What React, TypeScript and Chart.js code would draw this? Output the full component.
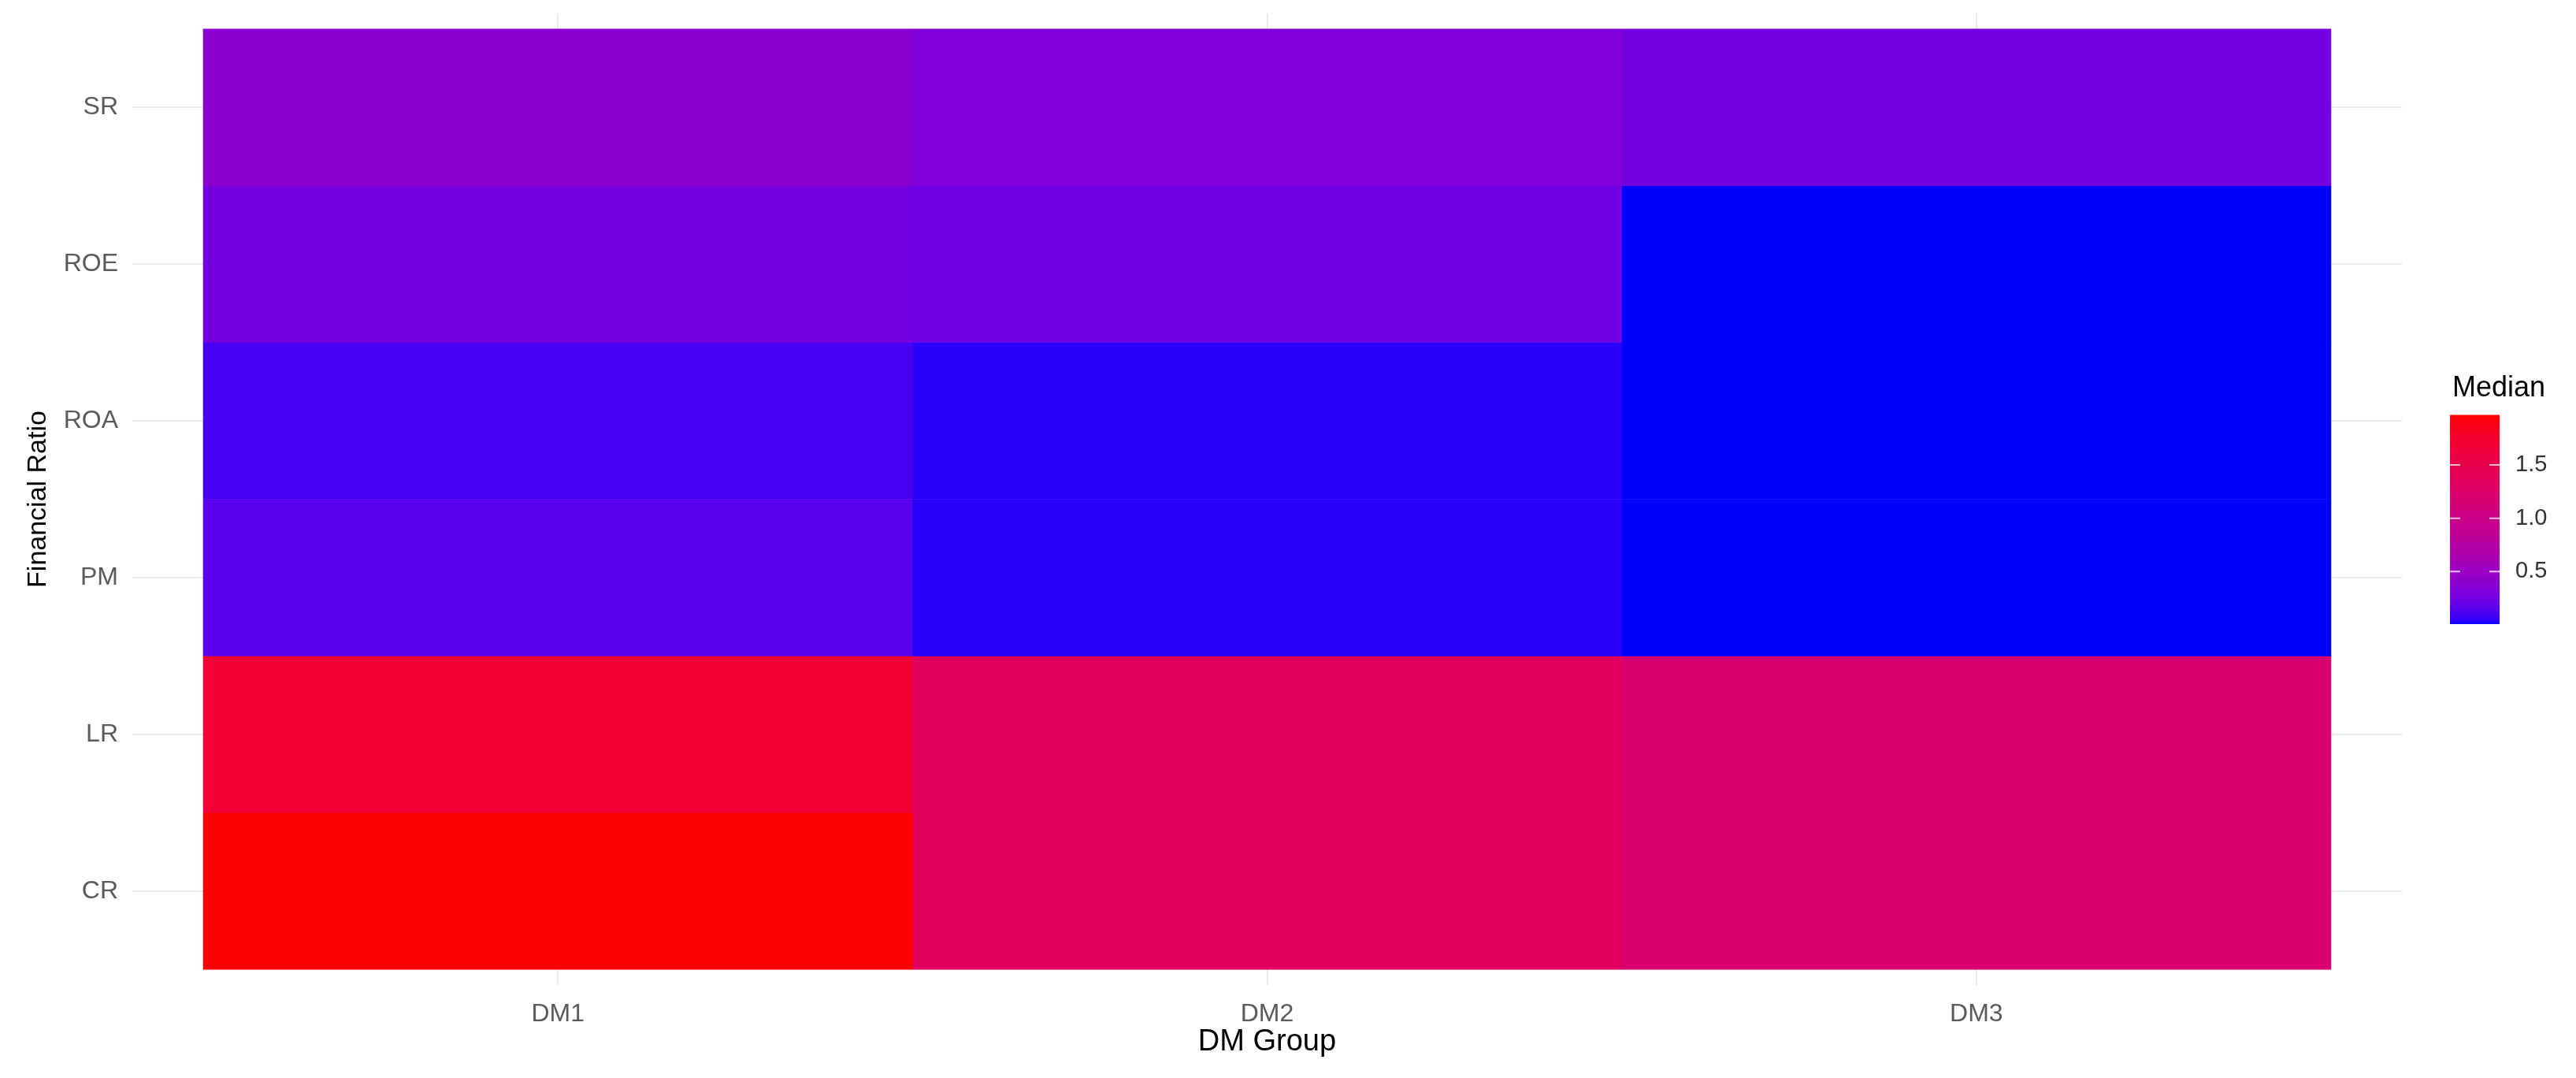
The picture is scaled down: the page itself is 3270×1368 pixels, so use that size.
import React, { useEffect, useRef } from "react";
import { Chart, registerables } from "chart.js";

Chart.register(...registerables);

// ---- data ----
const groups = ["DM1", "DM2", "DM3"];
// rows from bottom to top
const ratios = ["CR", "LR", "PM", "ROA", "ROE", "SR"];
const dm1Values = [1.97, 1.68, 0.15, 0.1, 0.26, 0.38];
const dm2Values = [1.36, 1.36, 0.04, 0.04, 0.23, 0.32];
const dm3Values = [1.21, 1.21, 0.01, 0.01, 0.01, 0.26];
const legendTicks = [0.5, 1.0, 1.5];

const allValues = [dm1Values, dm2Values, dm3Values];
const flat = allValues.flat();
const vmin = Math.min(...flat);
const vmax = Math.max(...flat);

// ---- Lab gradient (blue -> red), like ggplot's scale_fill_gradient ----
function srgbToLin(c: number) {
  c /= 255;
  return c <= 0.04045 ? c / 12.92 : Math.pow((c + 0.055) / 1.055, 2.4);
}
function linToSrgb(v: number) {
  v = v <= 0.0031308 ? 12.92 * v : 1.055 * Math.pow(Math.max(v, 0), 1 / 2.4) - 0.055;
  return Math.round(Math.max(0, Math.min(1, v)) * 255);
}
const Xn = 0.95047, Yn = 1.0, Zn = 1.08883;
function f(t: number) {
  return t > 0.008856 ? Math.cbrt(t) : 7.787 * t + 16 / 116;
}
function finv(t: number) {
  const t3 = t * t * t;
  return t3 > 0.008856 ? t3 : (t - 16 / 116) / 7.787;
}
function toLab(r: number, g: number, b: number) {
  const R = srgbToLin(r), G = srgbToLin(g), B = srgbToLin(b);
  const X = 0.4124564 * R + 0.3575761 * G + 0.1804375 * B;
  const Y = 0.2126729 * R + 0.7151522 * G + 0.072175 * B;
  const Z = 0.0193339 * R + 0.119192 * G + 0.9503041 * B;
  const fx = f(X / Xn), fy = f(Y / Yn), fz = f(Z / Zn);
  return [116 * fy - 16, 500 * (fx - fy), 200 * (fy - fz)];
}
function fromLab(L: number, a: number, bb: number) {
  const fy = (L + 16) / 116;
  const fx = fy + a / 500;
  const fz = fy - bb / 200;
  const X = Xn * finv(fx), Y = Yn * finv(fy), Z = Zn * finv(fz);
  const R = 3.2404542 * X - 1.5371385 * Y - 0.4985314 * Z;
  const G = -0.969266 * X + 1.8760108 * Y + 0.041556 * Z;
  const B = 0.0556434 * X - 0.2040259 * Y + 1.0572252 * Z;
  return `rgb(${linToSrgb(R)},${linToSrgb(G)},${linToSrgb(B)})`;
}
const labLow = toLab(0, 0, 255);
const labHigh = toLab(255, 0, 0);
function colorFor(v: number) {
  const t = Math.max(0, Math.min(1, (v - vmin) / (vmax - vmin)));
  return fromLab(
    labLow[0] + t * (labHigh[0] - labLow[0]),
    labLow[1] + t * (labHigh[1] - labLow[1]),
    labLow[2] + t * (labHigh[2] - labLow[2])
  );
}

const FONT = "'Liberation Sans', Arial, sans-serif";

const colorbarPlugin = {
  id: "colorbar",
  afterDraw(chart: any) {
    const { ctx, chartArea } = chart;
    const barLeft = chartArea.right + 61;
    const barW = 63;
    const barH = 265;
    const cy = (chartArea.top + chartArea.bottom) / 2;
    const barBottom = cy + 158;
    const barTop = barBottom - barH;
    ctx.save();
    for (let i = 0; i < barH; i++) {
      const v = vmax - ((i + 0.5) / barH) * (vmax - vmin);
      ctx.fillStyle = colorFor(v);
      ctx.fillRect(barLeft, barTop + i, barW, 1.5);
    }
    ctx.strokeStyle = "rgba(255,255,255,0.75)";
    ctx.lineWidth = 2;
    ctx.font = `29px ${FONT}`;
    ctx.fillStyle = "#333333";
    ctx.textAlign = "left";
    ctx.textBaseline = "middle";
    for (const v of legendTicks) {
      const y = barBottom - ((v - vmin) / (vmax - vmin)) * barH;
      ctx.beginPath();
      ctx.moveTo(barLeft, y);
      ctx.lineTo(barLeft + 13, y);
      ctx.moveTo(barLeft + barW - 13, y);
      ctx.lineTo(barLeft + barW, y);
      ctx.stroke();
      ctx.fillText(v.toFixed(1), barLeft + 83, y);
    }
    ctx.font = `36px ${FONT}`;
    ctx.fillStyle = "#000000";
    ctx.fillText("Median", barLeft + 3, barTop - 33);
    ctx.restore();
  },
};

export default function App() {
  const ref = useRef<HTMLCanvasElement | null>(null);
  useEffect(() => {
    if (!ref.current) return;
    const chart = new Chart(ref.current, {
      type: "bar",
      data: {
        datasets: groups.map((g, gi) => ({
          label: g,
          data: ratios.map((_r, ri) => ({ x: gi + 1, y: [ri, ri + 1] })),
          backgroundColor: allValues[gi].map(colorFor),
          borderWidth: 0,
          grouped: false,
          barPercentage: 1,
          categoryPercentage: 1,
        })) as any,
      },
      options: {
        animation: false,
        responsive: false,
        devicePixelRatio: 1,
        layout: { padding: { left: 0, right: 221, top: 17, bottom: 0 } },
        plugins: { legend: { display: false }, tooltip: { enabled: false } },
        scales: {
          x: {
            type: "linear",
            min: 0.4,
            max: 3.6,
            offset: false,
            afterBuildTicks: (s: any) => {
              s.ticks = groups.map((_g, i) => ({ value: i + 1 }));
            },
            afterFit: (s: any) => {
              s.height = 118;
              s.paddingLeft = 0;
              s.paddingRight = 0;
            },
            ticks: {
              callback: (_v: any, i: number) => groups[i],
              font: { family: FONT, size: 32 },
              color: "#5a5a5a",
              padding: 18,
              maxRotation: 0,
            },
            grid: { color: "#EBEBEB", lineWidth: 2, drawTicks: false, offset: false },
            border: { display: false },
            title: {
              display: true,
              text: "DM Group",
              font: { family: FONT, size: 38 },
              color: "#000000",
              padding: { top: 0, bottom: 23 },
            },
          },
          y: {
            type: "linear",
            min: -0.1,
            max: 6.1,
            offset: false,
            afterBuildTicks: (s: any) => {
              s.ticks = ratios.map((_r, i) => ({ value: i + 0.5 }));
            },
            afterFit: (s: any) => {
              s.width = 168;
              s.paddingTop = 0;
              s.paddingBottom = 0;
            },
            ticks: {
              callback: (_v: any, i: number) => ratios[i],
              font: { family: FONT, size: 32 },
              color: "#5a5a5a",
              padding: 18,
            },
            grid: { color: "#EBEBEB", lineWidth: 2, drawTicks: false, offset: false },
            border: { display: false },
            title: {
              display: true,
              text: "Financial Ratio",
              font: { family: FONT, size: 34 },
              color: "#000000",
              padding: { top: 28, bottom: 0 },
            },
          },
        },
      } as any,
      plugins: [colorbarPlugin],
    });
    return () => chart.destroy();
  }, []);
  return (
    <div
      style={{
        position: "fixed",
        left: 0,
        top: 0,
        width: 3270,
        height: 1368,
        background: "#ffffff",
      }}
    >
      <canvas ref={ref} width={3270} height={1368} style={{ display: "block" }} />
    </div>
  );
}
